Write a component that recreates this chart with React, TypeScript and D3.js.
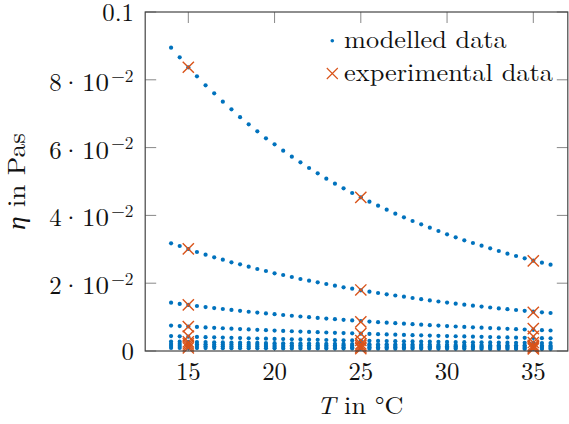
import React from "react";
import * as d3 from "d3";

// Temperatures (°C) of the modelled data
const temps = [
  14, 14.5, 15, 15.5, 16, 16.5, 17, 17.5, 18, 18.5, 19, 19.5, 20, 20.5, 21, 21.5,
  22, 22.5, 23, 23.5, 24, 24.5, 25, 25.5, 26, 26.5, 27, 27.5, 28, 28.5, 29, 29.5,
  30, 30.5, 31, 31.5, 32, 32.5, 33, 33.5, 34, 34.5, 35, 35.5, 36,
];

// Modelled viscosity series (Pa s)
const model1 = [
  0.08947, 0.08664, 0.08369, 0.08103, 0.07838, 0.07602, 0.07354, 0.0713, 0.06897, 0.06687,
  0.06481, 0.06274, 0.06097, 0.05909, 0.05732, 0.05566, 0.05398, 0.05242, 0.05083, 0.04935,
  0.04799, 0.04661, 0.04534, 0.04404, 0.04286, 0.04168, 0.0405, 0.03944, 0.03835, 0.03737,
  0.03637, 0.0354, 0.03442, 0.03354, 0.03265, 0.03186, 0.03106, 0.03029, 0.0295, 0.0287,
  0.02802, 0.02735, 0.02664, 0.02605, 0.02546,
];
const model2 = [
  0.03177, 0.03097, 0.03009, 0.0292, 0.02841, 0.02764, 0.02693, 0.02617, 0.02558, 0.02487,
  0.02419, 0.0236, 0.02292, 0.02242, 0.02183, 0.02124, 0.02074, 0.02027, 0.01976, 0.01926,
  0.01879, 0.01838, 0.01791, 0.01749, 0.01711, 0.01673, 0.01637, 0.01602, 0.01563, 0.01528,
  0.01493, 0.0146, 0.01428, 0.01395, 0.01366, 0.01336, 0.0131, 0.01283, 0.01257, 0.01233,
  0.01209, 0.01186, 0.01162, 0.01142, 0.01121,
];
const model3 = [
  0.01425, 0.0139, 0.0136, 0.01328, 0.01297, 0.01267, 0.01239, 0.01211, 0.01184, 0.01158,
  0.01133, 0.01108, 0.01085, 0.01062, 0.0104, 0.01018, 0.00997, 0.00977, 0.00957, 0.00938,
  0.0092, 0.00902, 0.00885, 0.00868, 0.00851, 0.00835, 0.0082, 0.00805, 0.0079, 0.00776,
  0.00762, 0.00749, 0.00736, 0.00723, 0.00711, 0.00699, 0.00687, 0.00676, 0.00665, 0.00654,
  0.00644, 0.00634, 0.00624, 0.00614, 0.00605,
];
const model4 = [
  0.0075, 0.00736, 0.00722, 0.00709, 0.00696, 0.00683, 0.00671, 0.00659, 0.00647, 0.00636,
  0.00625, 0.00614, 0.00603, 0.00593, 0.00583, 0.00573, 0.00564, 0.00555, 0.00546, 0.00537,
  0.00528, 0.0052, 0.00512, 0.00504, 0.00496, 0.00489, 0.00482, 0.00475, 0.00468, 0.00461,
  0.00454, 0.00448, 0.00441, 0.00435, 0.00429, 0.00423, 0.00417, 0.00411, 0.00405, 0.004,
  0.00394, 0.00389, 0.00384, 0.00379, 0.00374,
];
const model5 = [
  0.0044, 0.00432, 0.00424, 0.00416, 0.00409, 0.00402, 0.00395, 0.00388, 0.00381, 0.00375,
  0.00369, 0.00363, 0.00357, 0.00351, 0.00346, 0.0034, 0.00335, 0.0033, 0.00325, 0.0032,
  0.00315, 0.00311, 0.00306, 0.00302, 0.00298, 0.00294, 0.0029, 0.00286, 0.00282, 0.00278,
  0.00275, 0.00271, 0.00268, 0.00265, 0.00261, 0.00258, 0.00255, 0.00252, 0.00249, 0.00246,
  0.00243, 0.00241, 0.00238, 0.00235, 0.00233,
];
const model6 = [
  0.0028, 0.00275, 0.0027, 0.00266, 0.00262, 0.00258, 0.00254, 0.0025, 0.00246, 0.00242,
  0.00239, 0.00235, 0.00232, 0.00229, 0.00226, 0.00223, 0.0022, 0.00217, 0.00214, 0.00211,
  0.00209, 0.00206, 0.00204, 0.00201, 0.00199, 0.00197, 0.00194, 0.00192, 0.0019, 0.00188,
  0.00186, 0.00184, 0.00182, 0.0018, 0.00178, 0.00177, 0.00175, 0.00173, 0.00171, 0.0017,
  0.00168, 0.00167, 0.00165, 0.00164, 0.00162,
];
const model7 = [
  0.0021, 0.00207, 0.00204, 0.00201, 0.00198, 0.00195, 0.00192, 0.00189, 0.00186, 0.00184,
  0.00181, 0.00179, 0.00176, 0.00174, 0.00172, 0.0017, 0.00167, 0.00165, 0.00163, 0.00161,
  0.00159, 0.00157, 0.00156, 0.00154, 0.00152, 0.0015, 0.00149, 0.00147, 0.00145, 0.00144,
  0.00142, 0.00141, 0.00139, 0.00138, 0.00137, 0.00135, 0.00134, 0.00133, 0.00131, 0.0013,
  0.00129, 0.00128, 0.00127, 0.00125, 0.00124,
];
const model8 = [
  0.0015, 0.00148, 0.00146, 0.00144, 0.00142, 0.0014, 0.00138, 0.00136, 0.00134, 0.00132,
  0.0013, 0.00128, 0.00127, 0.00125, 0.00123, 0.00122, 0.0012, 0.00119, 0.00117, 0.00116,
  0.00114, 0.00113, 0.00112, 0.0011, 0.00109, 0.00108, 0.00107, 0.00106, 0.00104, 0.00103,
  0.00102, 0.00101, 0.001, 0.00099, 0.00098, 0.00097, 0.00096, 0.00095, 0.00094, 0.00093,
  0.00092, 0.00092, 0.00091, 0.0009, 0.00089,
];
const model9 = [
  0.0009, 0.00089, 0.00088, 0.00087, 0.00086, 0.00085, 0.00084, 0.00083, 0.00082, 0.00081,
  0.0008, 0.00079, 0.00078, 0.00077, 0.00076, 0.00075, 0.00075, 0.00074, 0.00073, 0.00072,
  0.00071, 0.00071, 0.0007, 0.00069, 0.00069, 0.00068, 0.00067, 0.00067, 0.00066, 0.00065,
  0.00065, 0.00064, 0.00064, 0.00063, 0.00063, 0.00062, 0.00062, 0.00061, 0.00061, 0.0006,
  0.0006, 0.00059, 0.00059, 0.00058, 0.00058,
];
const modelSeries = [model1, model2, model3, model4, model5, model6, model7, model8, model9];

// Experimental data
const expTemps = [15, 25, 35];
const exp1 = [0.0837, 0.0453, 0.0266];
const exp2 = [0.0301, 0.018, 0.0114];
const exp3 = [0.0136, 0.0086, 0.0066];
const exp4 = [0.0072, 0.0051, 0.0043];
const exp5 = [0.0044, 0.0031, 0.0025];
const exp6 = [0.0027, 0.0021, 0.0017];
const exp7 = [0.0021, 0.0016, 0.0013];
const exp8 = [0.0015, 0.0011, 0.0009];
const exp9 = [0.0009, 0.0007, 0.0006];
const expSeries = [exp1, exp2, exp3, exp4, exp5, exp6, exp7, exp8, exp9];

const xTicks = [15, 20, 25, 30, 35];
const yTicks = [0, 0.02, 0.04, 0.06, 0.08, 0.1];
const yTickMantissa = ["0", "2", "4", "6", "8", "0.1"];

const BLUE = "#0072BD";
const ORANGE = "#D95319";
const FONT = "'Latin Modern Roman', 'CMU Serif', 'Liberation Serif', serif";

export default function App() {
  const W = 569;
  const H = 424;
  const L = 145.2, R = 567.8, T = 12, B = 351;
  const x = d3.scaleLinear().domain([12.5, 37]).range([L, R]);
  const y = d3.scaleLinear().domain([0, 0.1]).range([B, T]);
  const tickLen = 11;
  const cs = 5.6;

  const cross = (cx: number, cy: number, key: string, s = cs, w = 1.4) => (
    <path
      key={key}
      d={`M${cx - s},${cy - s}L${cx + s},${cy + s}M${cx - s},${cy + s}L${cx + s},${cy - s}`}
      stroke={ORANGE}
      strokeWidth={w}
      fill="none"
    />
  );

  return (
    <svg
      width={W}
      height={H}
      style={{ position: "absolute", left: 0, top: 0, background: "#fff" }}
      fontFamily={FONT}
    >
      {/* ticks */}
      {xTicks.map((t) => (
        <g key={"xt" + t} stroke="#888" strokeWidth={1}>
          <line x1={x(t)} x2={x(t)} y1={B} y2={B - tickLen} />
          <line x1={x(t)} x2={x(t)} y1={T} y2={T + tickLen} />
        </g>
      ))}
      {yTicks.map((t) => (
        <g key={"yt" + t} stroke="#888" strokeWidth={1}>
          <line x1={L} x2={L + tickLen} y1={y(t)} y2={y(t)} />
          <line x1={R} x2={R - tickLen} y1={y(t)} y2={y(t)} />
        </g>
      ))}

      {/* modelled data */}
      {modelSeries.map((s, si) =>
        s.map((v, i) => (
          <circle key={`m${si}-${i}`} cx={x(temps[i])} cy={y(v)} r={2.1} fill={BLUE} />
        ))
      )}
      {/* experimental data */}
      {expSeries.map((s, si) => s.map((v, i) => cross(x(expTemps[i]), y(v), `e${si}-${i}`)))}

      {/* axis box */}
      <rect x={L} y={T} width={R - L} height={B - T} fill="none" stroke="#444" strokeWidth={1.2} />

      {/* x tick labels */}
      {xTicks.map((t) => (
        <text key={"xl" + t} x={x(t)} y={379.5} textAnchor="middle" fontSize={24.8} fill="#111">
          {t}
        </text>
      ))}
      {/* y tick labels */}
      {yTicks.map((t, i) => {
        const yy = y(t);
        const m = yTickMantissa[i];
        if (t === 0 || t === 0.1) {
          return (
            <text key={"yl" + t} x={134} y={yy + 8.5} textAnchor="end" fontSize={24.8} fill="#111">
              {m}
            </text>
          );
        }
        const right = 133.5;
        return (
          <g key={"yl" + t} fill="#111">
            <text x={right} y={yy + 1.8} textAnchor="end" fontSize={17.4}>
              −2
            </text>
            <text
              x={right - 51.5}
              y={yy + 11}
              fontSize={24.8}
              textLength={27}
              lengthAdjust="spacingAndGlyphs"
            >
              10
            </text>
            <text x={right - 62.5} y={yy + 11} textAnchor="middle" fontSize={24.8}>
              ·
            </text>
            <text x={right - 71.8} y={yy + 11} textAnchor="end" fontSize={24.8}>
              {m}
            </text>
          </g>
        );
      })}

      {/* axis labels */}
      <text x={360} y={414} textAnchor="middle" fontSize={24.8} fill="#111" textLength={86.7} lengthAdjust="spacingAndGlyphs">
        <tspan fontStyle="italic">T</tspan> in °C
      </text>
      <text
        transform={`translate(24.5,181.5) rotate(-90)`}
        textAnchor="middle"
        fontSize={24.8}
        fill="#111"
        textLength={97}
        lengthAdjust="spacingAndGlyphs"
      >
        <tspan fontStyle="italic">η</tspan> in Pas
      </text>

      {/* legend */}
      <circle cx={332.3} cy={40.7} r={1.8} fill={BLUE} />
      <text x={344} y={47.7} fontSize={24.8} fill="#111" textLength={162.7} lengthAdjust="spacingAndGlyphs">
        modelled data
      </text>
      {cross(332.3, 73.5, "legcross", 5.5, 1.1)}
      <text x={344} y={80.5} fontSize={24.8} fill="#111" textLength={209} lengthAdjust="spacingAndGlyphs">
        experimental data
      </text>
    </svg>
  );
}
